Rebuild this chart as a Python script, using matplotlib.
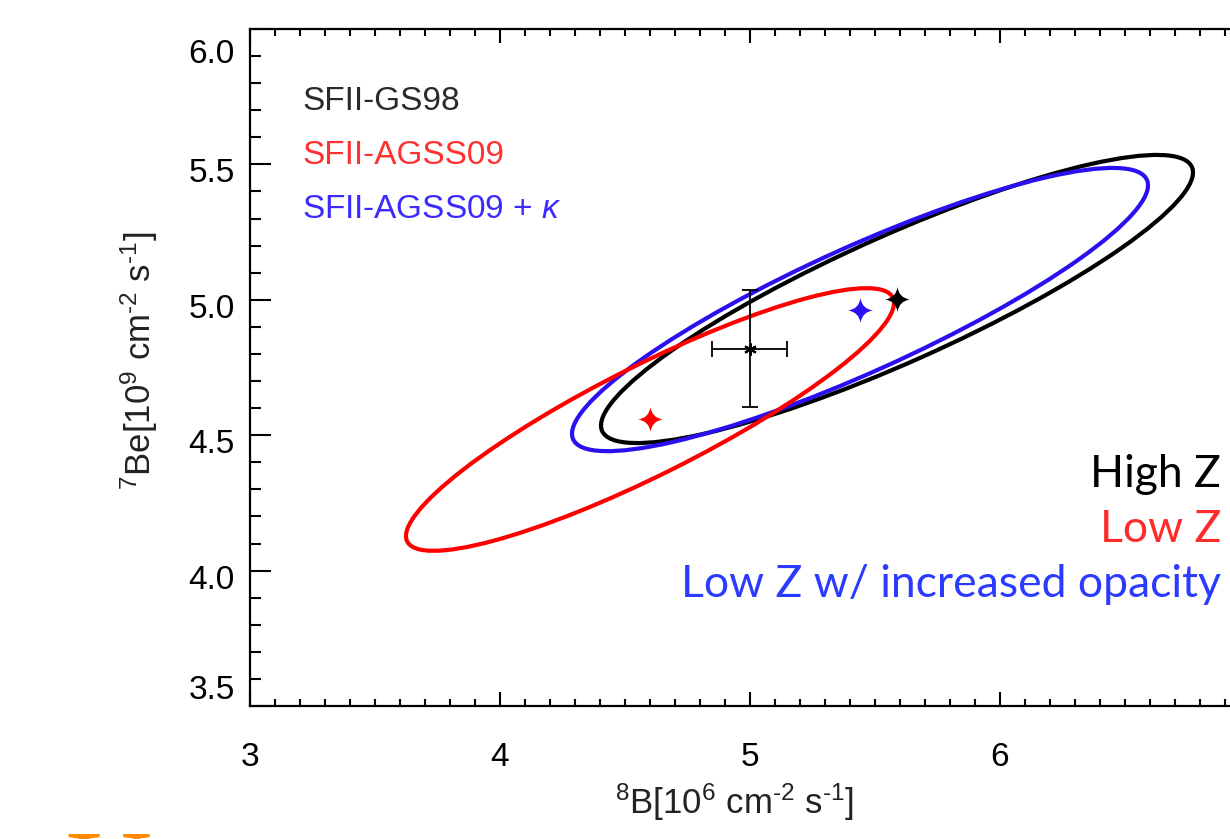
import numpy as np
import matplotlib
matplotlib.use("Agg")
import matplotlib.pyplot as plt
from matplotlib.patches import Ellipse
from matplotlib.path import Path
from matplotlib.transforms import ScaledTranslation

plt.rcParams['font.family'] = ['Liberation Sans', 'DejaVu Sans']
plt.rcParams['mathtext.fontset'] = 'custom'
plt.rcParams['mathtext.rm'] = 'Liberation Sans'
plt.rcParams['mathtext.it'] = 'Liberation Sans:italic'
plt.rcParams['mathtext.bf'] = 'Liberation Sans:bold'

# ---- data ----
model_names = ["SFII-GS98", "SFII-AGSS09", "SFII-AGSS09 + $\\kappa$"]
model_colors = ["#000000", "#ff0000", "#2a10f0"]
text_colors = ["#2a2a2a", "#ff3030", "#3a2aff"]
# model predictions (8B, 7Be) = centre of each contour
model_b8 = [5.588, 4.600, 5.440]
model_be7 = [5.003, 4.558, 4.964]
# contour half-extents in x and y and correlation
ell_sx = [1.184, 0.976, 1.152]
ell_sy = [0.532, 0.485, 0.523]
ell_rho = [0.878, 0.887, 0.877]

# measurement
meas_b8 = 5.00
meas_b8_err = 0.15
meas_be7 = 4.82
meas_be7_err = 0.216

right_labels = ["High Z", "Low Z", "Low Z w/ increased opacity"]
right_colors = ["#000000", "#ff2a2a", "#2a3aff"]

xticks = [3, 4, 5, 6]
yticks = [3.5, 4.0, 4.5, 5.0, 5.5, 6.0]
ytick_labels = ["3.5", "4.0", "4.5", "5.0", "5.5", "6.0"]

# ---- figure ----
W, H = 1230, 839
fig = plt.figure(figsize=(W / 100, H / 100), dpi=100)
ax = fig.add_axes([250 / W, (H - 706) / H, 1000 / W, 677 / H])
ax.set_xlim(3, 7)
ax.set_ylim(3.5, 6.0)

# contours
order = [0, 2, 1]
for i in order:
    cov = np.array([[ell_sx[i] ** 2, ell_rho[i] * ell_sx[i] * ell_sy[i]],
                    [ell_rho[i] * ell_sx[i] * ell_sy[i], ell_sy[i] ** 2]])
    vals, vecs = np.linalg.eigh(cov)
    ang = np.degrees(np.arctan2(vecs[1, 1], vecs[0, 1]))
    e = Ellipse((model_b8[i], model_be7[i]), 2 * np.sqrt(vals[1]), 2 * np.sqrt(vals[0]),
                angle=ang, fill=False, edgecolor=model_colors[i], lw=3.0, zorder=3)
    ax.add_patch(e)

# star marker
c = 0.12
verts = [(1, 0), (c, c), (0, 1), (-c, c), (-1, 0), (-c, -c), (0, -1), (c, -c), (1, 0)]
codes = [Path.MOVETO, Path.CURVE3, Path.LINETO, Path.CURVE3, Path.LINETO,
         Path.CURVE3, Path.LINETO, Path.CURVE3, Path.LINETO]
star = Path(verts, codes)
for i in range(3):
    ax.plot(model_b8[i], model_be7[i], marker=star, ms=18, color=model_colors[i],
            mec=model_colors[i], mew=0, zorder=5, linestyle='none')

# measurement
ax.errorbar(meas_b8, meas_be7, xerr=meas_b8_err, yerr=meas_be7_err, fmt='none',
            ecolor='black', elinewidth=1.3, capsize=5.5, capthick=1.3, zorder=6)
ax.plot(meas_b8, meas_be7, marker=(6, 2, 0), ms=9, color='black', mew=1.5, zorder=6)

# legend-like texts
for i, (name, col) in enumerate(zip(model_names, text_colors)):
    fig.text(302 / W, (H - (110 + 54 * i)) / H, name, color=col, fontsize=24,
             va='baseline', ha='left')
for i, (lab, col) in enumerate(zip(right_labels, right_colors)):
    fig.text(1221 / W, (H - (487 + 55 * i)) / H, lab, color=col, fontsize=32,
             family=['Lato', 'DejaVu Sans'], ha='right', va='baseline')

# axes styling
for sp in ax.spines.values():
    sp.set_linewidth(1.6)
ax.set_xticks(xticks)
ax.set_xticklabels([str(t) for t in xticks])
ax.set_xticks(np.arange(3.0, 7.01, 0.1), minor=True)
ax.set_yticks(yticks)
ax.set_yticks(np.arange(3.5, 6.01, 0.1), minor=True)
ax.tick_params(axis='x', which='major', direction='in', length=10, width=1.5,
               top=True, labelsize=24, pad=26)
ax.tick_params(axis='x', which='minor', direction='in', length=5, width=1.5, top=True)
ax.tick_params(axis='y', which='major', direction='in', length=15, width=1.5,
               labelsize=24, pad=11)
ax.tick_params(axis='y', which='minor', direction='in', length=8, width=1.5)
ax.set_yticklabels(ytick_labels)

labs = ax.get_yticklabels()
for k, lab in enumerate(labs):
    if k == 0:
        lab.set_va('bottom')
    elif k == len(labs) - 1:
        lab.set_va('top')
        lab.set_transform(lab.get_transform() + ScaledTranslation(0, -10 / 100, fig.dpi_scale_trans))
    else:
        lab.set_transform(lab.get_transform() + ScaledTranslation(0, -6 / 100, fig.dpi_scale_trans))

ax.set_xlabel("$^{8}$B[10$^{6}$ cm$^{\u2010 2}$ s$^{\u2010 1}$]", fontsize=25, color='#222222')
ax.xaxis.set_label_coords(0.485, -0.112)
ax.set_ylabel("$^{7}$Be[10$^{9}$ cm$^{\u2010 2}$ s$^{\u2010 1}$]", fontsize=25, color='#222222')
ax.yaxis.set_label_coords(-0.09, 0.51)

# partially visible slide title at the bottom
fig.text(65 / W, (H - 912) / H, "U", color='#ff8a00', fontsize=86,
         family=['Liberation Serif', 'DejaVu Serif'], va='baseline', ha='left')

fig.savefig("out.png", dpi=100)
